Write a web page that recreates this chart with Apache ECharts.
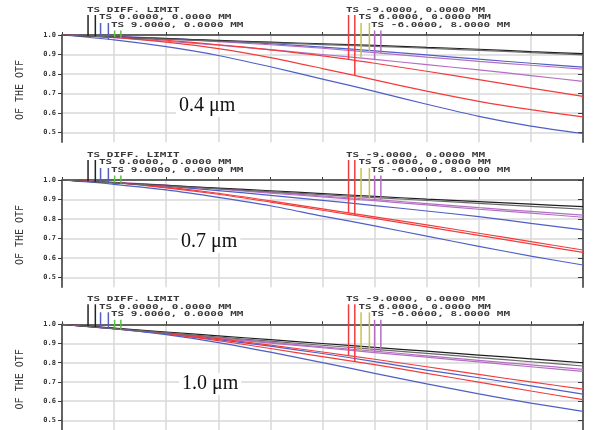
<!DOCTYPE html>
<html>
<head>
<meta charset="utf-8">
<script src="https://cdn.jsdelivr.net/npm/echarts@6/dist/echarts.min.js"></script>
<style>
    html, body {margin: 0; padding: 0; background: #fff;}
    #chart {width: 596px; height: 430px;}
</style>
</head>
<body>
<div id="chart"></div>
<script>
// spatial frequency, in grid divisions (axis is cropped, no labels)
var freq = [0, 1, 2, 3, 4, 5, 6, 7, 8, 9, 10];
var yTicks = [0.5, 0.6, 0.7, 0.8, 0.9, 1.0];

var headLeft = ["TS DIFF. LIMIT", "TS 0.0000, 0.0000 MM", "TS 9.0000, 0.0000 MM"];
var headRight = ["TS -9.0000, 0.0000 MM", "TS 6.0000, 0.0000 MM", "TS -6.0000, 8.0000 MM"];
var waveLabels = ["0.4 \u03bcm", "0.7 \u03bcm", "1.0 \u03bcm"];
var yTitle = "OF THE OTF";

// 0.4 um
var w04DiffT = [1, 0.990, 0.981, 0.972, 0.963, 0.955, 0.947, 0.937, 0.927, 0.915, 0.904];
var w04DiffS = [1, 0.989, 0.979, 0.969, 0.960, 0.951, 0.942, 0.932, 0.921, 0.910, 0.898];
var w04BlueA = [1, 0.993, 0.983, 0.970, 0.955, 0.938, 0.919, 0.898, 0.876, 0.855, 0.835];
var w04PurpA = [1, 0.992, 0.980, 0.966, 0.950, 0.932, 0.910, 0.887, 0.865, 0.845, 0.825];
var w04PurpB = [1, 0.986, 0.968, 0.948, 0.925, 0.900, 0.875, 0.848, 0.821, 0.792, 0.762];
var w04RedA = [1, 0.990, 0.973, 0.950, 0.924, 0.893, 0.855, 0.814, 0.771, 0.728, 0.685];
var w04RedB = [1, 0.988, 0.963, 0.930, 0.884, 0.828, 0.770, 0.712, 0.660, 0.617, 0.580];
var w04BlueB = [1, 0.975, 0.940, 0.895, 0.837, 0.774, 0.711, 0.645, 0.583, 0.533, 0.495];

// 0.7 um
var w07DiffT = [1, 0.986, 0.972, 0.958, 0.945, 0.930, 0.916, 0.902, 0.889, 0.876, 0.863];
var w07DiffS = [1, 0.985, 0.970, 0.955, 0.940, 0.925, 0.910, 0.895, 0.880, 0.865, 0.850];
var w07BlueA = [1, 0.986, 0.968, 0.946, 0.921, 0.896, 0.869, 0.841, 0.812, 0.778, 0.744];
var w07PurpA = [1, 0.988, 0.974, 0.956, 0.937, 0.918, 0.900, 0.879, 0.858, 0.839, 0.820];
var w07PurpB = [1, 0.987, 0.972, 0.953, 0.933, 0.913, 0.894, 0.872, 0.850, 0.830, 0.809];
var w07RedA = [1, 0.987, 0.963, 0.932, 0.893, 0.852, 0.811, 0.770, 0.727, 0.684, 0.641];
var w07RedB = [1, 0.986, 0.960, 0.927, 0.887, 0.845, 0.803, 0.760, 0.716, 0.672, 0.629];
var w07BlueB = [1, 0.978, 0.949, 0.911, 0.868, 0.815, 0.765, 0.712, 0.660, 0.610, 0.564];

// 1.0 um
var w10DiffT = [1, 0.980, 0.960, 0.940, 0.920, 0.900, 0.880, 0.860, 0.840, 0.820, 0.800];
var w10DiffS = [1, 0.978, 0.956, 0.934, 0.912, 0.891, 0.870, 0.849, 0.827, 0.805, 0.783];
var w10BlueA = [1, 0.978, 0.951, 0.920, 0.886, 0.848, 0.806, 0.762, 0.722, 0.680, 0.637];
var w10PurpA = [1, 0.977, 0.953, 0.930, 0.906, 0.883, 0.860, 0.836, 0.812, 0.789, 0.765];
var w10PurpB = [1, 0.976, 0.951, 0.927, 0.902, 0.878, 0.853, 0.829, 0.804, 0.779, 0.755];
var w10RedA = [1, 0.979, 0.954, 0.925, 0.892, 0.856, 0.818, 0.779, 0.739, 0.700, 0.663];
var w10RedB = [1, 0.977, 0.950, 0.915, 0.874, 0.832, 0.790, 0.745, 0.699, 0.653, 0.608];
var w10BlueB = [1, 0.977, 0.946, 0.905, 0.855, 0.801, 0.745, 0.690, 0.638, 0.590, 0.547];

// field marker lines: where they touch the curves, which curve, which text row
var markFreq = [0.5, 0.64, 0.74, 0.89, 1.01, 1.13, 5.5, 5.62, 5.74, 5.9, 6.0, 6.12];
var markCurve = [0, 1, 2, 7, 5, 6, 5, 6, 4, 3, 4, 3];
var markRow = [0, 0, 1, 1, 2, 2, 0, 0, 1, 1, 2, 2];

var panels = [
    [w04DiffT, w04DiffS, w04BlueA, w04PurpA, w04PurpB, w04RedA, w04RedB, w04BlueB],
    [w07DiffT, w07DiffS, w07BlueA, w07PurpA, w07PurpB, w07RedA, w07RedB, w07BlueB],
    [w10DiffT, w10DiffS, w10BlueA, w10PurpA, w10PurpB, w10RedA, w10RedB, w10BlueB]
];

var BLUE = '#4f5fc6', RED = '#f23c3c', PURP = '#b46fc3', YEL = '#c9c24a', GRN = '#5cc040';
var curveColor = ['#1e1e1e', '#6a6a6a', BLUE, PURP, PURP, RED, RED, BLUE];
var markColor = ['#222', '#222', BLUE, BLUE, GRN, GRN, RED, RED, YEL, YEL, PURP, PURP];

var gridTops = [35, 180, 324.3];
var plotH = 107.25;
var rowOff = [-20, -12, -4.5];
var wavePos = [[176, 106], [178, 242], [179, 384]];
var GRID = '#d9d9d9', AX = '#3a3a3a';

function interp(arr, x) {
    var i = Math.min(Math.floor(x), freq.length - 2);
    return arr[i] + (arr[i + 1] - arr[i]) * (x - freq[i]);
}

var grids = [], xAxes = [], yAxes = [], series = [], graphics = [];

panels.forEach(function (curves, p) {
    var top = gridTops[p];
    grids.push({left: 62, width: 521, top: top, height: plotH});

    xAxes.push({
        gridIndex: p, type: 'value', min: 0, max: 10, interval: 1, position: 'bottom',
        axisLine: {show: false, onZero: false}, axisTick: {show: false}, axisLabel: {show: false},
        splitLine: {show: true, lineStyle: {color: GRID, width: 1.5}}
    });
    xAxes.push({
        gridIndex: p, type: 'value', min: 0, max: 10, interval: 1, position: 'top',
        axisLine: {show: true, onZero: false, lineStyle: {color: AX, width: 1.5}},
        axisTick: {show: true, inside: false, length: 3, lineStyle: {color: AX, width: 1}},
        axisLabel: {show: false}, splitLine: {show: false}
    });
    yAxes.push({
        gridIndex: p, type: 'value', min: 0.45, max: 1, position: 'left',
        axisLine: {show: true, onZero: false, lineStyle: {color: AX, width: 1.5}},
        axisTick: {show: true, length: 4, customValues: yTicks, lineStyle: {color: AX}},
        axisLabel: {
            customValues: yTicks, margin: 6, fontSize: 7, fontWeight: 'bold',
            fontFamily: 'DejaVu Sans Mono', color: '#333',
            formatter: function (v) { return v.toFixed(1); }
        },
        splitLine: {show: true, lineStyle: {color: GRID, width: 1.5}}
    });
    yAxes.push({
        gridIndex: p, type: 'value', min: 0.45, max: 1, position: 'right',
        axisLine: {show: true, onZero: false, lineStyle: {color: AX, width: 1.5}},
        axisTick: {show: true, inside: true, length: 5, customValues: yTicks, lineStyle: {color: AX}},
        axisLabel: {show: false}, splitLine: {show: false}
    });

    curves.forEach(function (arr, k) {
        series.push({
            type: 'line', xAxisIndex: 2 * p, yAxisIndex: 2 * p,
            data: freq.map(function (f, j) { return [f, arr[j]]; }),
            showSymbol: false, smooth: 0.25, silent: true, animation: false,
            lineStyle: {color: curveColor[k], width: 1.2},
            itemStyle: {color: curveColor[k]},
            z: 3 + (k < 2 ? 1 : 0)
        });
    });

    var marks = markFreq.map(function (f, m) {
        return {
            value: [f, interp(curves[markCurve[m]], f), markRow[m]],
            itemStyle: {color: markColor[m]}
        };
    });
    series.push({
        type: 'custom', xAxisIndex: 2 * p, yAxisIndex: 2 * p, data: marks,
        silent: true, animation: false, z: 6,
        renderItem: function (params, api) {
            var pt = api.coord([api.value(0), api.value(1)]);
            var y0 = top + rowOff[api.value(2)];
            return {
                type: 'line',
                shape: {x1: pt[0], y1: y0, x2: pt[0], y2: pt[1]},
                style: {stroke: api.visual('color'), lineWidth: 1.5}
            };
        }
    });

    for (var r = 0; r < 3; r++) {
        graphics.push({
            type: 'text', x: 87 + 12 * r, y: top - 25 + 7.5 * r, scaleY: 0.68, z: 10,
            style: {text: headLeft[r], font: 'bold 11px "DejaVu Sans Mono"', fill: '#3a3a3a', verticalAlign: 'middle'}
        });
        graphics.push({
            type: 'text', x: 346 + 12.5 * r, y: top - 25 + 7.5 * r, scaleY: 0.68, z: 10,
            style: {text: headRight[r], font: 'bold 11px "DejaVu Sans Mono"', fill: '#3a3a3a', verticalAlign: 'middle'}
        });
    }
    graphics.push({
        type: 'text', x: 20.5, y: top + 55, rotation: Math.PI / 2, z: 10,
        style: {text: yTitle, font: '10px "DejaVu Sans Mono"', fill: '#333', align: 'center', verticalAlign: 'middle'}
    });
    graphics.push({
        type: 'text', x: wavePos[p][0], y: wavePos[p][1], z: 10,
        style: {
            text: waveLabels[p], font: '20px "Liberation Serif"', fill: '#111',
            align: 'left', verticalAlign: 'middle', backgroundColor: '#fff', padding: [1, 3]
        }
    });
});

var chart = echarts.init(document.getElementById('chart'));
chart.setOption({
    animation: false,
    backgroundColor: '#fff',
    grid: grids,
    xAxis: xAxes,
    yAxis: yAxes,
    series: series,
    graphic: graphics
});
</script>
</body>
</html>
